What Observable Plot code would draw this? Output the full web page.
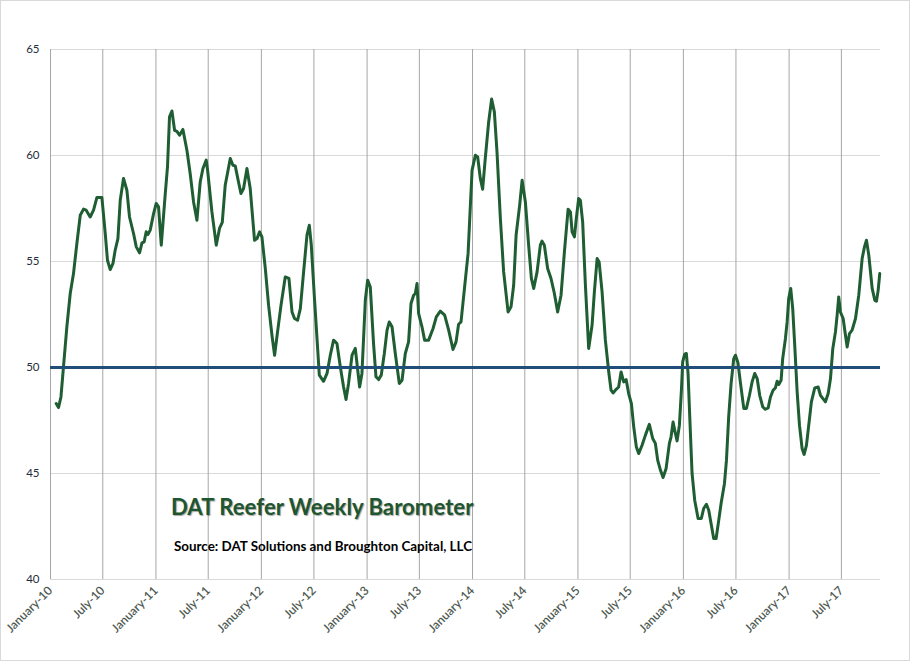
<!DOCTYPE html>
<html>
<head>
<meta charset="utf-8">
<script src="https://cdn.jsdelivr.net/npm/d3@7"></script>
<script src="https://cdn.jsdelivr.net/npm/@observablehq/plot@0.6"></script>
<style>
  body { margin: 0; background: #fff; }
  #wrap { position: relative; width: 908px; height: 659px; border: 1px solid #d9d9d9; background: #fff; font-family: Lato, "Open Sans", sans-serif; }
  #wrap svg { position: absolute; left: 0; top: 0; }
  #title { position: absolute; left: 170px; top: 495px; font-size: 22.2px; line-height: 22px; font-weight: 700; color: #1e5631; white-space: nowrap; text-shadow: 1px 1px 1px rgba(0,0,0,0.35); }
  #source { position: absolute; left: 173px; top: 539px; font-size: 13.4px; line-height: 13px; font-weight: 700; color: #000; white-space: nowrap; letter-spacing: 0; }
</style>
</head>
<body>
<div id="wrap">
  <div id="chart"></div>
  <div id="title">DAT Reefer Weekly Barometer</div>
  <div id="source">Source: DAT Solutions and Broughton Capital, LLC</div>
</div>
<script>
// Time of each reading, in years since 1 January 2010
const yearsSince2010 = [
  0.054,0.076,0.099,0.123,0.155,0.187,0.218,0.250,0.282,0.313,0.338,0.376,0.408,0.440,0.487,0.519,0.540,0.566,0.592,0.613,
  0.639,0.661,0.692,0.724,0.749,0.787,0.813,0.844,0.867,0.888,0.907,0.923,0.945,0.977,1.002,1.024,1.050,1.088,1.109,1.128,
  1.151,1.176,1.198,1.223,1.255,1.293,1.325,1.356,1.388,1.419,1.445,1.476,1.489,1.530,1.571,1.602,1.628,1.656,1.704,1.729,
  1.751,1.782,1.805,1.830,1.862,1.893,1.934,1.957,1.982,2.004,2.036,2.067,2.099,2.124,2.152,2.185,2.225,2.260,2.289,2.313,
  2.342,2.368,2.399,2.431,2.453,2.472,2.500,2.526,2.548,2.588,2.621,2.652,2.683,2.715,2.747,2.778,2.801,2.825,2.858,2.889,
  2.905,2.930,2.952,2.984,3.006,3.031,3.062,3.085,3.110,3.135,3.164,3.190,3.211,3.237,3.268,3.306,3.332,3.363,3.394,3.417,
  3.442,3.458,3.474,3.489,3.521,3.546,3.584,3.626,3.657,3.695,3.736,3.774,3.815,3.844,3.868,3.891,3.922,3.958,3.979,3.996,
  4.027,4.049,4.074,4.096,4.121,4.153,4.181,4.207,4.232,4.264,4.295,4.337,4.365,4.390,4.413,4.447,4.470,4.501,4.532,4.558,
  4.580,4.612,4.643,4.659,4.681,4.712,4.744,4.776,4.807,4.839,4.871,4.906,4.928,4.944,4.966,4.984,5.006,5.022,5.044,5.070,
  5.101,5.133,5.155,5.181,5.200,5.228,5.259,5.291,5.313,5.332,5.354,5.385,5.408,5.433,5.456,5.480,5.506,5.528,5.553,5.575,
  5.607,5.639,5.676,5.708,5.733,5.755,5.781,5.806,5.835,5.866,5.882,5.901,5.923,5.939,5.961,5.980,5.992,6.011,6.027,6.043,
  6.059,6.081,6.106,6.138,6.169,6.191,6.217,6.239,6.264,6.286,6.309,6.334,6.356,6.388,6.407,6.428,6.451,6.476,6.492,6.516,
  6.539,6.571,6.596,6.625,6.650,6.675,6.698,6.722,6.751,6.776,6.802,6.824,6.849,6.871,6.887,6.903,6.925,6.940,6.966,6.982,
  6.997,7.016,7.035,7.054,7.077,7.099,7.124,7.143,7.165,7.187,7.212,7.244,7.276,7.298,7.320,7.345,7.371,7.393,7.415,7.440,
  7.456,7.471,7.487,7.513,7.535,7.551,7.573,7.598,7.630,7.661,7.693,7.715,7.734,7.756,7.788,7.813,7.829,7.845,7.860
];
// DAT Reefer Weekly Barometer readings
const barometer = [
  48.30,48.11,48.61,50.03,51.92,53.49,54.43,55.85,57.18,57.47,57.42,57.10,57.42,58.02,58.02,56.32,55.06,54.62,54.91,55.53,
  56.08,57.89,58.92,58.36,57.10,56.32,55.69,55.41,55.88,55.93,56.40,56.27,56.48,57.26,57.74,57.58,55.77,58.21,59.46,61.82,
  62.10,61.19,61.14,60.96,61.23,60.25,59.10,57.81,56.95,58.75,59.39,59.78,59.31,57.34,55.77,56.56,56.84,58.60,59.86,59.54,
  59.51,58.75,58.21,58.44,59.39,58.44,56.00,56.08,56.40,56.16,54.67,52.94,51.52,50.58,51.68,52.94,54.27,54.20,52.62,52.31,
  52.23,52.78,54.51,56.24,56.71,55.77,53.41,51.37,49.64,49.35,49.72,50.58,51.29,51.13,50.03,49.08,48.49,49.25,50.58,50.90,
  50.19,49.08,49.72,53.17,54.12,53.80,51.13,49.56,49.43,49.64,50.66,51.76,52.15,51.92,50.66,49.25,49.40,50.66,51.21,53.02,
  53.41,53.49,53.96,52.55,51.92,51.29,51.29,51.84,52.39,52.66,52.47,51.76,50.85,51.21,52.04,52.15,53.65,55.38,57.58,59.31,
  60.01,59.93,58.92,58.41,59.86,61.58,62.66,62.06,60.17,57.03,54.51,52.62,52.86,53.88,56.24,57.66,58.83,57.81,55.77,54.20,
  53.73,54.51,55.77,55.96,55.77,54.67,54.20,53.49,52.62,53.41,55.45,57.47,57.34,56.40,56.16,57.03,57.97,57.89,56.87,53.88,
  50.90,51.99,53.57,55.14,54.98,53.57,51.30,49.80,48.93,48.80,48.93,49.08,49.79,49.32,49.43,48.77,48.30,47.20,46.25,45.94,
  46.33,46.81,47.32,46.65,46.42,45.63,45.16,44.81,45.24,46.42,46.73,47.43,46.89,46.54,47.28,48.93,50.26,50.63,50.66,49.72,
  47.67,45.00,43.74,42.88,42.88,43.35,43.55,43.27,42.56,41.93,41.93,42.80,43.58,44.53,45.63,47.67,49.25,50.42,50.58,50.22,
  49.30,48.07,48.07,48.69,49.32,49.72,49.48,48.69,48.14,48.03,48.09,48.61,48.93,49.04,49.35,49.20,49.40,50.42,51.37,52.15,
  53.25,53.73,52.78,51.05,48.85,47.28,46.18,45.90,46.33,47.28,48.38,49.04,49.08,48.69,48.54,48.38,48.77,49.48,50.90,51.68,
  52.47,53.33,52.62,52.31,51.52,50.97,51.60,51.76,52.31,53.41,55.14,55.69,56.00,55.30,53.73,53.17,53.13,53.65,54.43
];
const yTicks = [40, 45, 50, 55, 60, 65];
const tickYears = [2010, 2011, 2012, 2013, 2014, 2015, 2016, 2017];
const tickMonths = ["January", "July"];
const axisEndYears = 7.867;
const referenceLevel = 50;

const toDate = t => new Date(Date.UTC(2010, 0, 1) + t * 365.25 * 864e5);
const data = yearsSince2010.map((t, i) => ({date: toDate(t), value: barometer[i]}));
const ticks = [];
tickYears.forEach(y => {
  ticks.push({date: new Date(Date.UTC(y, 0, 1)), label: `${tickMonths[0]}-${String(y).slice(2)}`});
  ticks.push({date: new Date(Date.UTC(y, 6, 1)), label: `${tickMonths[1]}-${String(y).slice(2)}`});
});
const tickDates = ticks.map(d => d.date);
const labelOf = new Map(ticks.map(d => [+d.date, d.label]));

const chart = Plot.plot({
  width: 908,
  height: 659,
  marginLeft: 49,
  marginRight: 29,
  marginTop: 48,
  marginBottom: 81,
  style: {fontFamily: "Lato, 'Open Sans', sans-serif", background: "transparent"},
  x: {type: "utc", domain: [toDate(0), toDate(axisEndYears)]},
  y: {domain: [40, 65]},
  marks: [
    Plot.gridY(yTicks, {stroke: "#d9d9d9", strokeOpacity: 1, strokeWidth: 1}),
    Plot.gridX(tickDates, {stroke: "#a6a6a6", strokeOpacity: 1, strokeWidth: 1}),
    Plot.lineY(data, {x: "date", y: "value", stroke: "#1e5e32", strokeWidth: 3, strokeLinejoin: "round", strokeLinecap: "round"}),
    Plot.ruleY([referenceLevel], {stroke: "#1f4e79", strokeWidth: 3}),
    Plot.axisY(yTicks, {tickSize: 0, tickPadding: 11, fontSize: 11.5, fill: "#1f2d3d", label: null}),
    Plot.axisX(tickDates, {tickSize: 0, tickPadding: 9, tickRotate: -45, fontSize: 12, fill: "#4f5b52", fontWeight: 600, label: null, tickFormat: d => labelOf.get(+d)})
  ]
});
document.getElementById("chart").appendChild(chart);
</script>
</body>
</html>
